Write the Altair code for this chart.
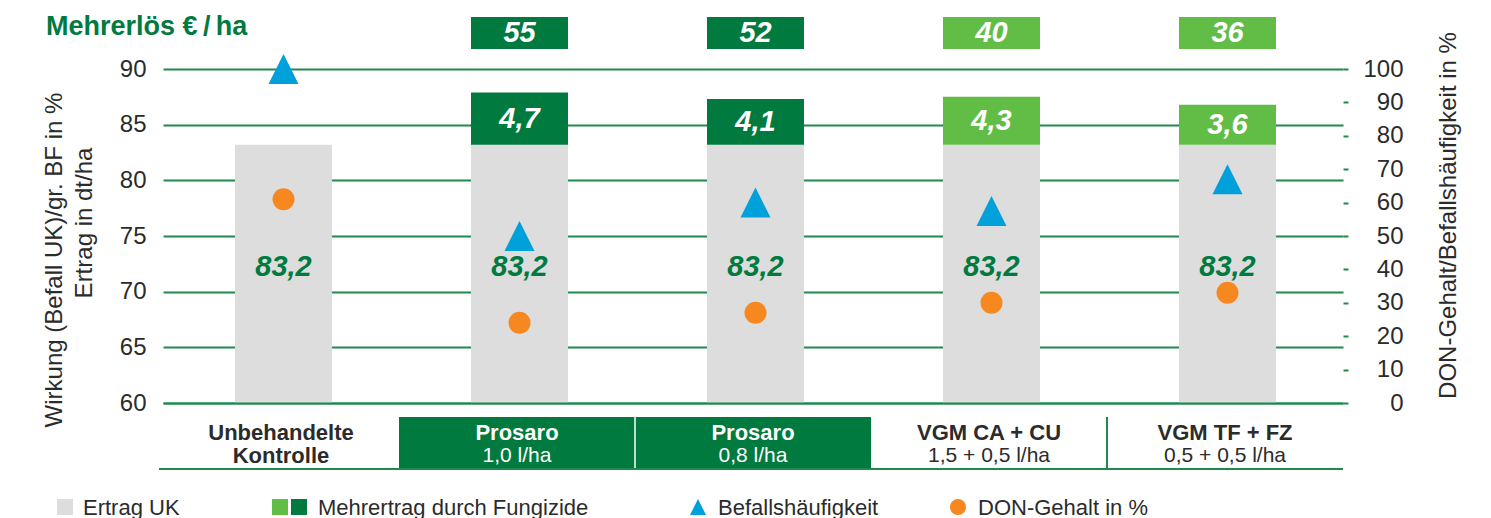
import altair as alt
import pandas as pd

# ---------------- data ----------------
cat_line1 = ["Unbehandelte", "Prosaro", "Prosaro", "VGM CA + CU", "VGM TF + FZ"]
cat_line2 = ["Kontrolle", "1,0 l/ha", "0,8 l/ha", "1,5 + 0,5 l/ha", "0,5 + 0,5 l/ha"]
groups = ["UK", "Prosaro", "Prosaro", "VGM", "VGM"]
ertrag_uk = [83.2, 83.2, 83.2, 83.2, 83.2]          # dt/ha
mehrertrag = [None, 4.7, 4.1, 4.3, 3.6]             # dt/ha
mehrerloes = [None, 55, 52, 40, 36]                 # EUR/ha
befall = [100, 50, 60, 57.5, 67]                    # %
don = [61, 24, 27, 30, 33]                          # %

title_text = "Mehrerlös €\u2009/\u2009ha"
left_title = ["Wirkung (Befall UK)/gr. BF in %", "Ertrag in dt/ha"]
right_title = "DON-Gehalt/Befallshäufigkeit in %"
legend_labels = ["Ertrag UK", "Mehrertrag durch Fungizide", "Befallshäufigkeit", "DON-Gehalt in %"]

# ---------------- styles ----------------
GREEN_DARK = "#007A3E"
GREEN_LIGHT = "#62BD47"
GRAY = "#DDDDDD"
BLUE = "#00A0DB"
ORANGE = "#F7871F"
GRID = "#1F8A4E"
TEXT = "#2B2B2B"
FONT = "Liberation Sans"
TRI = "M0,-1L-1,1L1,1Z"
XOFF = 2.5

cats = [f"{a} {b}" for a, b in zip(cat_line1, cat_line2)]


def de(v):
    return None if v is None else f"{v:.1f}".replace(".", ",")


seps = [None]
for i in range(1, len(groups)):
    if groups[i] == groups[i - 1]:
        seps.append("white" if groups[i] == "Prosaro" else "green")
    else:
        seps.append(None)

df = pd.DataFrame({
    "cat": cats,
    "l1": cat_line1,
    "l2": cat_line2,
    "grp": groups,
    "uk": ertrag_uk,
    "mehr": mehrertrag,
    "erl": mehrerloes,
    "bef": befall,
    "don": don,
    "sep": seps,
})
df["uk_lbl"] = [de(v) for v in ertrag_uk]
df["mehr_lbl"] = [de(v) for v in mehrertrag]
df["erl_lbl"] = [None if v is None else str(v) for v in mehrerloes]

xscale = alt.Scale(domain=cats, paddingInner=0, paddingOuter=0)
xaxis = alt.Axis(labels=False, ticks=False, title=None, grid=False,
                 domainColor=GRID, domainWidth=2, zindex=1)
X = alt.X("cat:N", scale=xscale, axis=xaxis, sort=cats)
X0 = alt.X("cat:N", scale=xscale, axis=xaxis, sort=cats, bandPosition=0)

yscale = alt.Scale(domain=[60, 90], nice=False, zero=False)
yaxis = alt.Axis(values=list(range(60, 95, 5)), grid=True, gridColor=GRID, gridWidth=2,
                 domain=False, ticks=False, labelPadding=17, labelFontSize=24,
                 labelFont=FONT, labelColor=TEXT, title=None)

yscale_r = alt.Scale(domain=[0, 100], nice=False, zero=True)
yaxis_r = alt.Axis(orient="right", values=list(range(0, 101, 10)), grid=False, domain=False,
                   tickColor=GRID, tickSize=5, tickWidth=2, labelAlign="right",
                   labelPadding=55, labelFontSize=24, labelFont=FONT, labelColor=TEXT,
                   title=right_title, titleAngle=270, titleX=105, titleY=146,
                   titleAlign="center", titleBaseline="middle", titleFontSize=24,
                   titleFont=FONT, titleFontWeight="normal", titleColor=TEXT)

cscale = alt.Scale(domain=["UK", "Prosaro", "VGM"], range=[GRAY, GREEN_DARK, GREEN_LIGHT])
COLOR = alt.Color("grp:N", scale=cscale, legend=None)

base = alt.Chart(df)
has_mehr = "isValid(datum.mehr)"

gray_bars = base.mark_bar(size=97, color=GRAY, xOffset=XOFF).encode(
    x=X, y=alt.Y("uk:Q", scale=yscale, axis=yaxis), y2=alt.Y2Datum(60))

green_bars = base.transform_filter(has_mehr).transform_calculate(
    top="datum.uk + datum.mehr").mark_bar(size=97, xOffset=XOFF).encode(
    x=X, y=alt.Y("uk:Q", scale=yscale, axis=yaxis), y2="top:Q", color=COLOR)

uk_txt = base.mark_text(font=FONT, fontSize=29, fontWeight="bold", fontStyle="italic",
                        color=GREEN_DARK, baseline="middle", dx=XOFF).encode(
    x=X, y=alt.value(198), text="uk_lbl:N")

mehr_txt = base.transform_filter(has_mehr).transform_calculate(
    mid="datum.uk + datum.mehr / 2").mark_text(
    font=FONT, fontSize=29, fontWeight="bold", fontStyle="italic", color="white",
    baseline="middle", dx=XOFF).encode(
    x=X, y=alt.Y("mid:Q", scale=yscale, axis=yaxis), text="mehr_lbl:N")

top_boxes = base.transform_filter("isValid(datum.erl)").mark_bar(size=97, xOffset=XOFF).encode(
    x=X, y=alt.value(-52), y2=alt.value(-20), color=COLOR)

top_txt = base.transform_filter("isValid(datum.erl)").mark_text(
    font=FONT, fontSize=29, fontWeight="bold", fontStyle="italic", color="white",
    baseline="middle", dx=XOFF).encode(x=X, y=alt.value(-36), text="erl_lbl:N")

table_fill = base.transform_filter("datum.grp == 'Prosaro'").mark_rect(color=GREEN_DARK).encode(
    x=X, y=alt.value(348), y2=alt.value(400))

sep_white = base.transform_filter("datum.sep == 'white'").mark_rule(
    color="white", strokeWidth=1.5).encode(x=X0, y=alt.value(348), y2=alt.value(400))
sep_green = base.transform_filter("datum.sep == 'green'").mark_rule(
    color=GRID, strokeWidth=2).encode(x=X0, y=alt.value(348), y2=alt.value(400))

one = alt.Chart(pd.DataFrame({"t": [title_text]}))
bottom_line = one.mark_rule(color=GRID, strokeWidth=2).encode(
    x=alt.value(-4), x2=alt.value(1180), y=alt.value(400))

txt_color = alt.condition("datum.grp == 'Prosaro'", alt.value("white"), alt.value(TEXT))
cat_txt1 = base.mark_text(font=FONT, fontSize=22, fontWeight="bold", baseline="middle").encode(
    x=X, y=alt.value(364), text="l1:N", color=txt_color)
cat_txt2_uk = base.transform_filter("datum.grp == 'UK'").mark_text(
    font=FONT, fontSize=22, fontWeight="bold", baseline="middle").encode(
    x=X, y=alt.value(387), text="l2:N", color=txt_color)
cat_txt2 = base.transform_filter("datum.grp != 'UK'").mark_text(
    font=FONT, fontSize=21, baseline="middle").encode(
    x=X, y=alt.value(387), text="l2:N", color=txt_color)

title_mark = one.mark_text(font=FONT, fontSize=27, fontWeight="bold", color=GREEN_DARK,
                           align="left", baseline="alphabetic").encode(
    x=alt.value(-117), y=alt.value(-34), text="t:N")

lt1 = alt.Chart(pd.DataFrame({"t": [left_title[0]]})).mark_text(
    font=FONT, fontSize=24, color=TEXT, angle=270, align="center", baseline="alphabetic").encode(
    x=alt.value(-101), y=alt.value(191), text="t:N")
lt2 = alt.Chart(pd.DataFrame({"t": [left_title[1]]})).mark_text(
    font=FONT, fontSize=24, color=TEXT, angle=270, align="center", baseline="alphabetic").encode(
    x=alt.value(-71), y=alt.value(154), text="t:N")

# ---- manual legend ----
LY = 438
lg = alt.Chart(pd.DataFrame({"t": ["x"]}))
leg_sq_gray = lg.mark_square(size=256, color=GRAY, opacity=1).encode(x=alt.value(-98), y=alt.value(LY))
leg_sq_l = lg.mark_square(size=256, color=GREEN_LIGHT, opacity=1).encode(x=alt.value(117), y=alt.value(LY))
leg_sq_d = lg.mark_square(size=256, color=GREEN_DARK, opacity=1).encode(x=alt.value(136), y=alt.value(LY))
leg_tri = lg.mark_point(shape=TRI, filled=True, size=256, color=BLUE, opacity=1).encode(
    x=alt.value(535), y=alt.value(LY))
leg_circ = lg.mark_circle(size=256, color=ORANGE, opacity=1).encode(x=alt.value(795), y=alt.value(LY))


def leg_text(label, xpos):
    return alt.Chart(pd.DataFrame({"t": [label]})).mark_text(
        font=FONT, fontSize=22, color=TEXT, align="left", baseline="middle").encode(
        x=alt.value(xpos), y=alt.value(LY + 1), text="t:N")


leg_texts = [leg_text(legend_labels[0], -80), leg_text(legend_labels[1], 155),
             leg_text(legend_labels[2], 555), leg_text(legend_labels[3], 815)]

left = alt.layer(
    gray_bars, green_bars, uk_txt, mehr_txt, top_boxes, top_txt,
    table_fill, sep_white, sep_green, bottom_line, cat_txt1, cat_txt2_uk, cat_txt2,
    title_mark, lt1, lt2,
    leg_sq_gray, leg_sq_l, leg_sq_d, leg_tri, leg_circ, *leg_texts,
)

tri = base.mark_point(shape=TRI, filled=True, size=900, color=BLUE, opacity=1, xOffset=XOFF).encode(
    x=X, y=alt.Y("bef:Q", scale=yscale_r, axis=yaxis_r))
circ = base.mark_circle(size=484, color=ORANGE, opacity=1, xOffset=XOFF).encode(
    x=X, y=alt.Y("don:Q", scale=yscale_r, axis=yaxis_r))
right = alt.layer(tri, circ)

chart = alt.layer(left, right).resolve_scale(y="independent").properties(
    width=1180, height=334,
    padding={"left": 155, "top": 61, "right": 122, "bottom": 118},
    autosize=alt.AutoSizeParams(type="none"),
    background="white",
).configure_view(stroke=None)

chart.save("out.html", embed_options={"renderer": "svg", "actions": False})
